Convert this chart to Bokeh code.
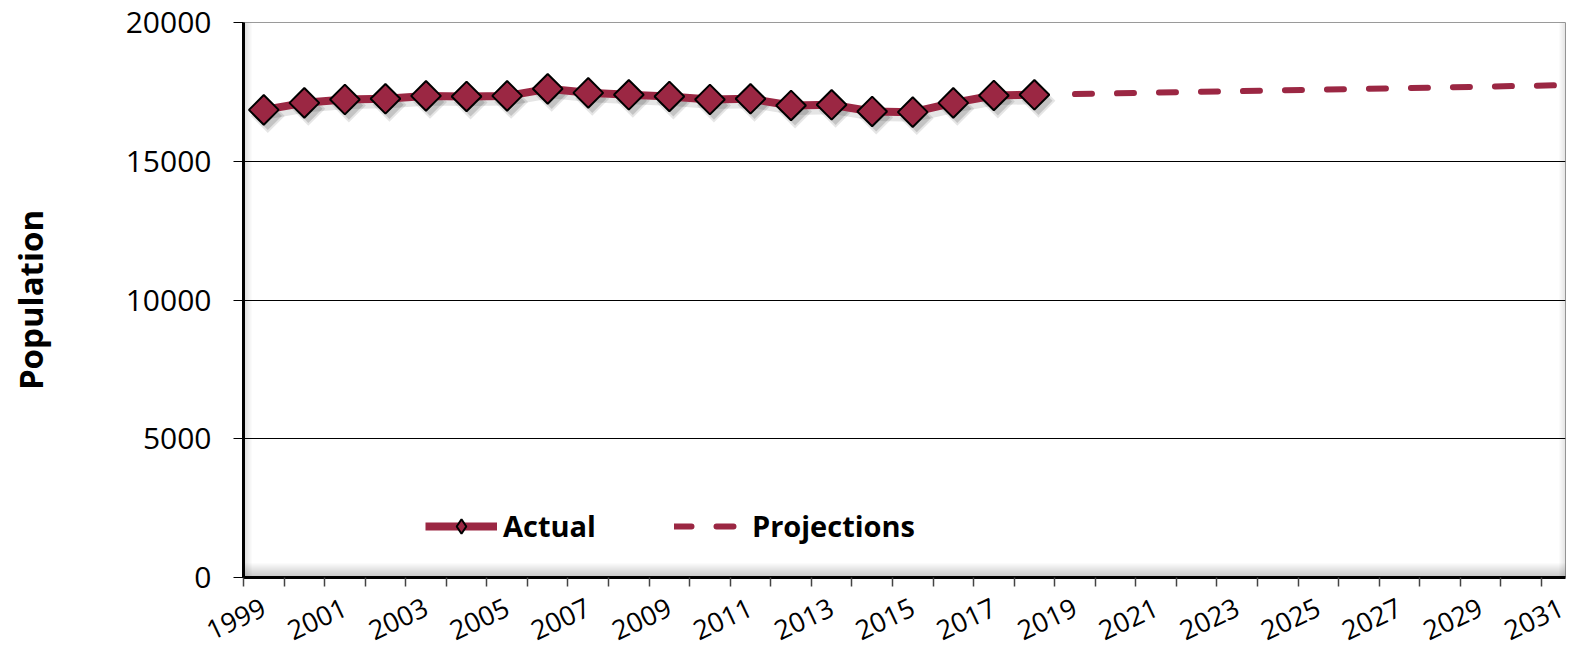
import numpy as np
from bokeh.plotting import figure
from bokeh.models import (FixedTicker, Legend, LegendItem, BoxAnnotation, Range1d,
                          ColumnDataSource)
from bokeh.embed import file_html
from bokeh.resources import INLINE

# ---- data ----
actual_years = list(range(1999, 2019))
actual_values = [16850, 17105, 17225, 17250, 17355, 17335, 17355, 17610, 17465, 17395,
                 17335, 17225, 17250, 17010, 17035, 16795, 16770, 17105, 17370, 17395]
proj_years = list(range(2019, 2032))
proj_values = [17420, 17445, 17475, 17500, 17525, 17555, 17580, 17605, 17635, 17660,
               17685, 17715, 17740]
label_years = list(range(1999, 2032, 2))
boundary_years = [y + 0.5 for y in range(1998, 2031)]
y_ticks = [0, 5000, 10000, 15000, 20000]

MAROON = "#9B2743"
FONT = "Open Sans"

W, H = 1568, 657
BL, BR, BT, BB = 243, 3, 22, 80
x0 = 1998.5
x1 = x0 + (W - BL - BR) / 40.56
y0, y1 = 0, 20000
px_x = (x1 - x0) / (W - BL - BR)
px_y = (y1 - y0) / (H - BT - BB)

p = figure(width=W, height=H, x_range=Range1d(x0, x1), y_range=Range1d(y0, y1),
           output_backend="svg", toolbar_location=None,
           min_border_left=BL, min_border_right=BR, min_border_top=BT, min_border_bottom=BB)
p.background_fill_color = "white"
p.border_fill_color = "white"
p.outline_line_color = "#9a9a9a"
p.outline_line_width = 1

# inner shadow of plot area (left, bottom, right)
for i in range(1, 8):
    p.add_layout(BoxAnnotation(bottom=y0, top=y0 + 2 * i * px_y, fill_color="black",
                               fill_alpha=0.03, line_color=None, level="underlay"))
for i in range(1, 5):
    p.add_layout(BoxAnnotation(left=x0, right=x0 + 2 * i * px_x, fill_color="black",
                               fill_alpha=0.03, line_color=None, level="underlay"))
for i in range(1, 4):
    p.add_layout(BoxAnnotation(left=x1 - 2 * i * px_x, right=x1, fill_color="black",
                               fill_alpha=0.03, line_color=None, level="underlay"))

# grid
p.xgrid.grid_line_color = None
p.ygrid.ticker = FixedTicker(ticks=y_ticks)
p.ygrid.grid_line_color = "black"
p.ygrid.grid_line_width = 1

# shadows
ax = np.array(actual_years, dtype=float)
ay = np.array(actual_values, dtype=float)
p.line(ax + 3 * px_x, ay - 5 * px_y, line_width=9, line_color="black", line_alpha=0.10)
p.scatter(ax + 4 * px_x, ay - 6 * px_y, marker="square", angle=np.pi / 4, size=24,
          fill_color="black", fill_alpha=0.10, line_color=None)
p.scatter(ax + 4 * px_x, ay - 6 * px_y, marker="square", angle=np.pi / 4, size=20,
          fill_color="black", fill_alpha=0.14, line_color=None)

# series
l_act = p.line(actual_years, actual_values, line_width=8, line_color=MAROON)
s_act = p.scatter(actual_years, actual_values, marker="square", angle=np.pi / 4, size=21,
                  fill_color=MAROON, line_color="black", line_width=2)
l_proj = p.line(proj_years, proj_values, line_width=6, line_color=MAROON,
                line_dash="17 25", line_cap="round")
# legend-only marker (diamond), no visible point
s_leg = p.scatter("x", "y", source=ColumnDataSource(dict(x=[np.nan], y=[np.nan])),
                  marker="diamond", size=14, fill_color=MAROON, line_color="black",
                  line_width=2)

# axes
xa = p.xaxis[0]
xa.ticker = FixedTicker(ticks=label_years, minor_ticks=boundary_years)
xa.major_tick_line_color = None
xa.major_tick_in = 0
xa.major_tick_out = 0
xa.minor_tick_in = 0
xa.minor_tick_out = 9
xa.minor_tick_line_color = "#444444"
xa.minor_tick_line_width = 1.5
xa.axis_line_color = "black"
xa.axis_line_width = 3
xa.major_label_orientation = 0.44
xa.major_label_standoff = 19
xa.major_label_text_font = FONT
xa.major_label_text_font_size = "27px"
xa.major_label_text_color = "black"

ya = p.yaxis[0]
ya.ticker = FixedTicker(ticks=y_ticks)
ya.minor_tick_line_color = None
ya.major_tick_in = 0
ya.major_tick_out = 10
ya.major_tick_line_color = "black"
ya.major_tick_line_width = 1
ya.axis_line_color = "black"
ya.axis_line_width = 3
ya.major_label_standoff = 22
ya.major_label_text_font = FONT
ya.major_label_text_font_size = "30px"
ya.major_label_text_color = "black"
ya.axis_label = "Population"
ya.axis_label_text_font = FONT
ya.axis_label_text_font_size = "33px"
ya.axis_label_text_font_style = "bold"
ya.axis_label_text_color = "black"
ya.axis_label_standoff = 70

legend = Legend(items=[LegendItem(label="Actual", renderers=[l_act, s_leg]),
                       LegendItem(label="Projections", renderers=[l_proj])],
                location=(182, 32), orientation="horizontal",
                glyph_width=72, glyph_height=36, label_standoff=6, spacing=78,
                padding=0, margin=0, border_line_color=None, background_fill_alpha=0,
                label_text_font=FONT, label_text_font_size="29px",
                label_text_font_style="bold", label_text_color="black")
p.add_layout(legend)

open("out.html", "w").write(file_html(p, INLINE))
